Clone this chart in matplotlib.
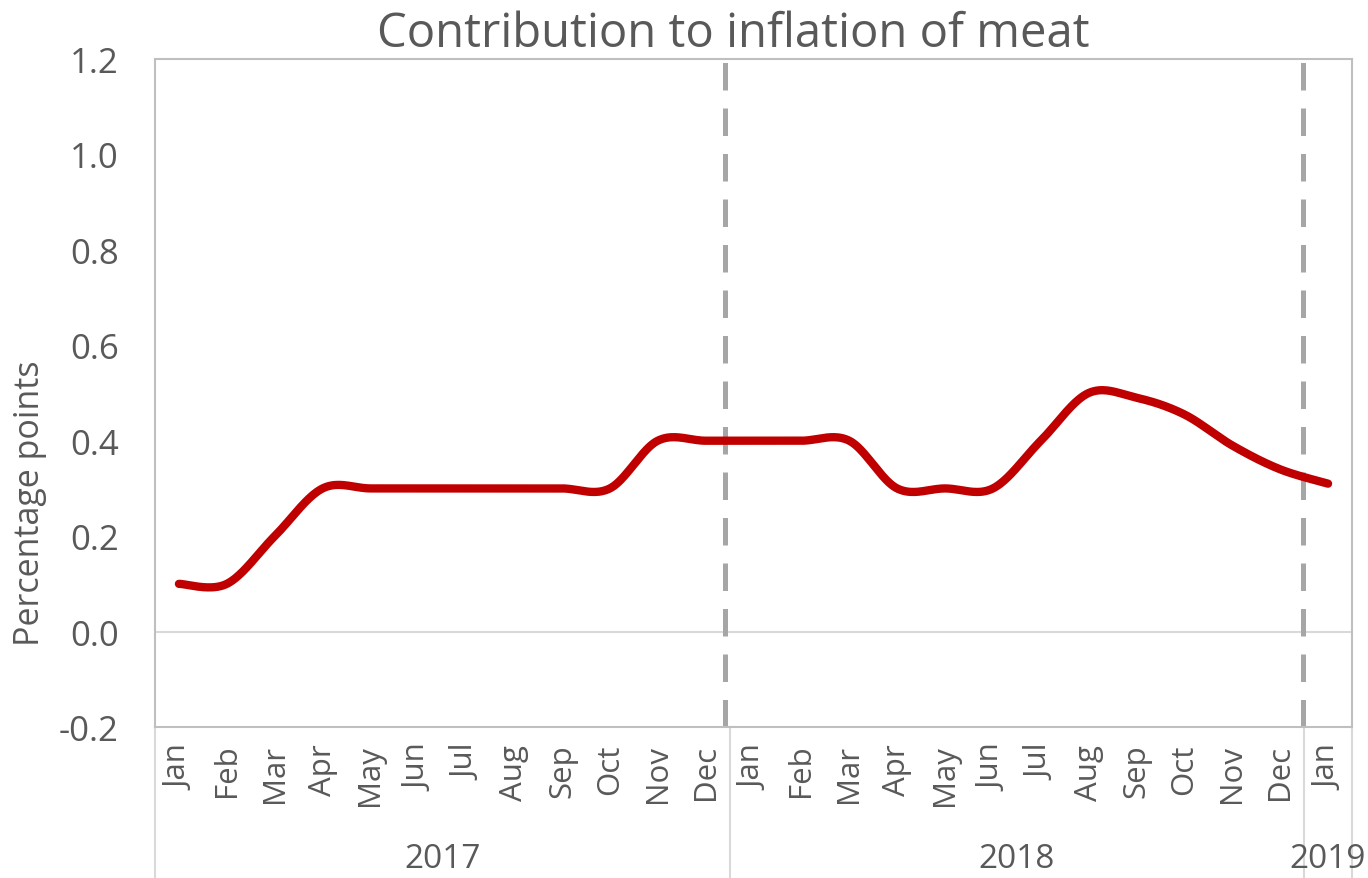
import numpy as np
import matplotlib
matplotlib.use("Agg")
import matplotlib.pyplot as plt
import matplotlib.transforms as mtransforms

plt.rcParams['font.family'] = ['Open Sans', 'DejaVu Sans']

months = ["Jan", "Feb", "Mar", "Apr", "May", "Jun", "Jul", "Aug", "Sep", "Oct", "Nov", "Dec",
          "Jan", "Feb", "Mar", "Apr", "May", "Jun", "Jul", "Aug", "Sep", "Oct", "Nov", "Dec",
          "Jan"]
years = ["2017", "2018", "2019"]
year_spans = [(0, 11), (12, 23), (24, 24)]
values = [0.10, 0.10, 0.20, 0.30, 0.30, 0.30, 0.30, 0.30, 0.30, 0.30, 0.40, 0.40,
          0.40, 0.40, 0.40, 0.30, 0.30, 0.30, 0.40, 0.50, 0.49, 0.455, 0.39, 0.34,
          0.31]
dashed_at = [11.4, 23.47]
yticks = [-0.2, 0.0, 0.2, 0.4, 0.6, 0.8, 1.0, 1.2]

TXT = "#595959"
fig = plt.figure(figsize=(13.68, 8.79), dpi=100)
ax = fig.add_axes([155/1368, 1-728/879, (1352-155)/1368, (728-60)/879])

# Catmull-Rom style smoothing (like Excel smoothed lines)
x = np.arange(len(values), dtype=float)
y = np.array(values, dtype=float)
px = np.concatenate([[x[0]], x, [x[-1]]])
py = np.concatenate([[y[0]], y, [y[-1]]])
xs, ys = [], []
t = np.linspace(0, 1, 40)
for i in range(len(x) - 1):
    p0 = np.array([px[i], py[i]]); p1 = np.array([px[i+1], py[i+1]])
    p2 = np.array([px[i+2], py[i+2]]); p3 = np.array([px[i+3], py[i+3]])
    c1 = p1 + (p2 - p0) / 6
    c2 = p2 - (p3 - p1) / 6
    b = ((1-t)**3)[:, None]*p1 + (3*(1-t)**2*t)[:, None]*c1 + (3*(1-t)*t**2)[:, None]*c2 + (t**3)[:, None]*p2
    xs.append(b[:, 0]); ys.append(b[:, 1])
xs = np.concatenate(xs); ys = np.concatenate(ys)

ax.axhline(0, color="#D9D9D9", lw=1.5, zorder=1)
for d in dashed_at:
    ax.axvline(d, color="#A6A6A6", lw=3.6, dashes=(5.5, 3.6), zorder=2)
ax.plot(xs, ys, color="#C00000", lw=6, solid_capstyle="round", zorder=3)

ax.set_xlim(-0.5, len(values) - 0.5)
ax.set_ylim(-0.2, 1.2)
ax.set_yticks(yticks)
ax.set_yticklabels([f"{v:.1f}" for v in yticks])
ax.tick_params(axis="y", length=0, pad=26, labelsize=25, labelcolor=TXT)
ax.set_xticks(x)
ax.set_xticklabels(months, rotation=90)
ax.tick_params(axis="x", length=0, pad=12, labelsize=22.5, labelcolor=TXT)
for s in ax.spines.values():
    s.set_color("#BFBFBF")
    s.set_linewidth(1.5)

ax.set_ylabel("Percentage points", fontsize=24.5, color=TXT)
ax.yaxis.set_label_coords(-0.090, (728 - 503) / 668)
fig.text(733/1368, 1 - 47/879, "Contribution to inflation of meat", fontsize=34,
         color=TXT, ha="center", va="baseline")

# category separators and year labels
trans = mtransforms.blended_transform_factory(ax.transData, ax.transAxes)
ybot = (728 - 879) / 668
bounds = [-0.5, 11.5, 23.5, 24.5]
for b in bounds:
    ax.plot([b, b], [0, ybot], transform=trans, color="#D9D9D9", lw=1.5, clip_on=False)
for lab, (a, e) in zip(years, year_spans):
    ax.text((a + e) / 2, (728 - 860) / 668, lab, transform=trans, ha="center", va="center",
            fontsize=24, color=TXT)

fig.savefig("out.png", dpi=100)
